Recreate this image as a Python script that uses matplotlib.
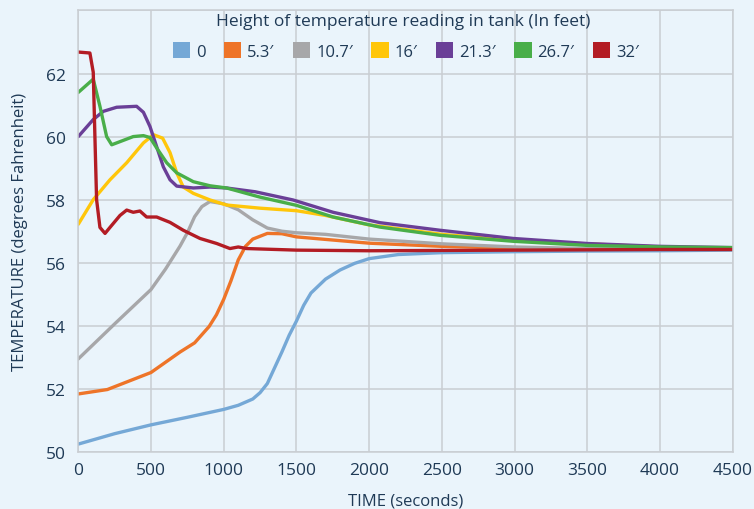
import matplotlib.pyplot as plt
from matplotlib.patches import Patch

plt.rcParams['font.family'] = ['Open Sans', 'DejaVu Sans']

# time (s) and temperature (F) for each sensor height
t_0 = [0, 250, 500, 750, 1000, 1100, 1200, 1250, 1300, 1350, 1400, 1450, 1500, 1550,
       1600, 1700, 1800, 1900, 2000, 2200, 2500, 3000, 3500, 4000, 4500]
v_0 = [50.25, 50.58, 50.86, 51.1, 51.35, 51.48, 51.68, 51.88, 52.17, 52.67, 53.17, 53.7, 54.15,
       54.65, 55.04, 55.48, 55.77, 55.98, 56.13, 56.26, 56.32, 56.35, 56.37, 56.38, 56.4]

t_53 = [0, 200, 500, 700, 800, 900, 950, 1000, 1050, 1100, 1150, 1200, 1300, 1400, 1500,
        2000, 2500, 3000, 3500, 4000, 4500]
v_53 = [51.84, 51.98, 52.52, 53.17, 53.46, 53.98, 54.35, 54.84, 55.43, 56.09, 56.52, 56.75,
        56.93, 56.92, 56.82, 56.62, 56.52, 56.46, 56.44, 56.43, 56.43]

t_107 = [0, 250, 500, 600, 700, 750, 800, 850, 905, 1000, 1100, 1200, 1300, 1400, 1500,
         1700, 2000, 2500, 3000, 3500, 4000, 4500]
v_107 = [52.95, 54.06, 55.15, 55.8, 56.53, 56.95, 57.46, 57.78, 57.94, 57.87, 57.68, 57.36,
         57.1, 57.0, 56.95, 56.9, 56.75, 56.6, 56.5, 56.45, 56.43, 56.42]

t_16 = [0, 103, 218, 333, 448, 517, 580, 631, 677, 722, 791, 906, 1020, 1250, 1500, 1700,
        2000, 2500, 3000, 3500, 4000, 4500]
v_16 = [57.22, 58.0, 58.63, 59.17, 59.8, 60.06, 59.95, 59.49, 58.85, 58.4, 58.2, 57.99, 57.83,
        57.73, 57.65, 57.5, 57.2, 56.9, 56.7, 56.6, 56.5, 56.45]

t_213 = [0, 103, 172, 264, 401, 448, 493, 539, 585, 631, 677, 791, 906, 1020, 1217, 1477,
         1752, 2075, 2487, 2991, 3500, 4000, 4500]
v_213 = [60.0, 60.54, 60.8, 60.93, 60.96, 60.77, 60.32, 59.68, 59.04, 58.63, 58.43, 58.37,
         58.4, 58.37, 58.25, 57.99, 57.6, 57.27, 57.03, 56.77, 56.61, 56.52, 56.48]

t_267 = [0, 103, 149, 195, 230, 287, 378, 448, 493, 539, 608, 677, 791, 906, 1020, 1250,
         1500, 1752, 2075, 2487, 2991, 3500, 4000, 4500]
v_267 = [61.4, 61.82, 60.96, 60.0, 59.74, 59.84, 60.0, 60.03, 59.97, 59.64, 59.17, 58.85,
         58.57, 58.44, 58.37, 58.08, 57.82, 57.45, 57.13, 56.87, 56.68, 56.55, 56.5, 56.48]

t_32 = [0, 80, 103, 115, 126, 149, 184, 218, 287, 333, 378, 424, 470, 539, 631, 722, 837,
        952, 1043, 1100, 1158, 1500, 2000, 3000, 4000, 4500]
v_32 = [62.68, 62.65, 62.04, 59.9, 58.0, 57.12, 56.93, 57.12, 57.5, 57.67, 57.6, 57.64, 57.45,
        57.45, 57.28, 57.03, 56.77, 56.61, 56.45, 56.5, 56.45, 56.4, 56.38, 56.4, 56.42, 56.42]

labels = ['0', '5.3′', '10.7′', '16′', '21.3′', '26.7′', '32′']
colors = ['#75A8D6', '#EE7428', '#A7A7A9', '#FFC60A', '#6A3F97', '#49AE49', '#B31C24']
series = [(t_0, v_0), (t_53, v_53), (t_107, v_107), (t_16, v_16),
          (t_213, v_213), (t_267, v_267), (t_32, v_32)]

bg = '#EAF4FB'
txt = '#1F3A56'
grid = '#C9CDD2'

fig = plt.figure(figsize=(7.54, 5.10), dpi=100, facecolor=bg)
ax = fig.add_axes([0.1038, 0.1118, 0.868, 0.8658], facecolor=bg)

for (t, v), c in zip(series, colors):
    ax.plot(t, v, color=c, lw=2.4, solid_joinstyle='round', solid_capstyle='round')

ax.set_xlim(0, 4500)
ax.set_ylim(50, 64)
ax.set_xticks(range(0, 4501, 500))
ax.set_yticks(range(50, 63, 2))
ax.set_yticks([64], minor=True)
ax.grid(True, which='both', color=grid, lw=1.1)
ax.set_axisbelow(True)
for s in ax.spines.values():
    s.set_color(grid)
    s.set_linewidth(1.1)
ax.tick_params(length=0, labelsize=12.5, colors=txt)
ax.tick_params(axis='x', pad=7)
ax.tick_params(axis='y', pad=9)
ax.tick_params(which='minor', length=0)

ax.set_xlabel('TIME (seconds)', fontsize=12, color=txt, labelpad=11)
ax.set_ylabel('TEMPERATURE (degrees Fahrenheit)', fontsize=12, color=txt, labelpad=13)

fig.text(0.535, 1 - 22 / 510, 'Height of temperature reading in tank (In feet)',
         ha='center', va='center', fontsize=12.5, color=txt)
handles = [Patch(facecolor=c, edgecolor='none', label=l) for c, l in zip(colors, labels)]
ax.legend(handles=handles, loc='center', bbox_to_anchor=(0.538, 1 - 52 / 510),
          bbox_transform=fig.transFigure, ncol=7, frameon=False, fontsize=12,
          handlelength=1.05, handleheight=1.05, handletextpad=0.35, columnspacing=1.1,
          borderpad=0, labelcolor=txt)

fig.savefig('out.png', dpi=100, facecolor=bg)
